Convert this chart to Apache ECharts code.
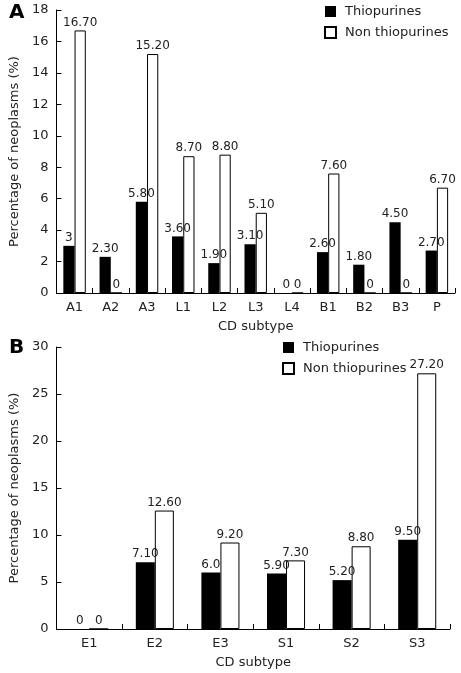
<!DOCTYPE html>
<html>
<head>
<meta charset="utf-8">
<script src="https://cdn.jsdelivr.net/npm/echarts@6/dist/echarts.min.js"></script>
<style>html,body{margin:0;padding:0;background:#fff;}#c{width:461px;height:673px;}</style>
</head>
<body>
<div id="c"></div>
<script>
// Panel A data
var catsA = ['A1','A2','A3','L1','L2','L3','L4','B1','B2','B3','P'];
var thioA = [3, 2.3, 5.8, 3.6, 1.9, 3.1, 0, 2.6, 1.8, 4.5, 2.7];
var nonA  = [16.7, 0, 15.2, 8.7, 8.8, 5.1, 0, 7.6, 0, 0, 6.7];
var thioALabels = ['3','2.30','5.80','3.60','1.90','3.10','0','2.60','1.80','4.50','2.70'];
var nonALabels  = ['16.70','0','15.20','8.70','8.80','5.10','0','7.60','0','0','6.70'];
// Panel B data
var catsB = ['E1','E2','E3','S1','S2','S3'];
var thioB = [0, 7.1, 6.0, 5.9, 5.2, 9.5];
var nonB  = [0, 12.6, 9.2, 7.3, 8.8, 27.2];
var thioBLabels = ['0','7.10','6.0','5.90','5.20','9.50'];
var nonBLabels  = ['0','12.60','9.20','7.30','8.80','27.20'];
var seriesNames = ['Thiopurines','Non thiopurines'];
var xName = 'CD subtype';
var yName = 'Percentage of neoplasms (%)';

var FONT = 'DejaVu Sans';
var TXT = '#222';
function xAxis(cats, gi){
  return {
    type:'category', gridIndex:gi, data:cats,
    name:xName, nameLocation:'middle', nameGap:27,
    nameTextStyle:{fontFamily:FONT,fontSize:13,color:TXT},
    axisLine:{show:true,lineStyle:{color:'#000',width:1}},
    axisTick:{show:true,alignWithLabel:false,interval:0,inside:true,length:5,lineStyle:{color:'#000',width:1}},
    axisLabel:{fontFamily:FONT,fontSize:13,color:TXT,margin:8,interval:0}
  };
}
function yAxis(max, interval, gi){
  return {
    type:'value', gridIndex:gi, min:0, max:max, interval:interval,
    name:yName, nameLocation:'middle', nameGap:31,
    nameTextStyle:{fontFamily:FONT,fontSize:13,color:TXT},
    axisLine:{show:true,lineStyle:{color:'#000',width:1}},
    axisTick:{show:true,inside:true,length:5,lineStyle:{color:'#000',width:1}},
    axisLabel:{fontFamily:FONT,fontSize:13,color:TXT,margin:8},
    splitLine:{show:false}
  };
}
function labelFor(arr){
  return {show:true,position:'top',distance:2,fontFamily:FONT,fontSize:12,color:TXT,
    formatter:function(p){return arr[p.dataIndex];}};
}
function bars(name, data, labels, gi, black, gap){
  return {
    type:'bar', name:name, xAxisIndex:gi, yAxisIndex:gi, data:data,
    barGap:'0%', barCategoryGap:gap, z:1,
    itemStyle: black ? {color:'#000'} : {color:'#fff',borderColor:'#000',borderWidth:1},
    label:labelFor(labels)
  };
}
function legend(left, top){
  return {
    orient:'vertical', left:left, top:top, itemWidth:11, itemHeight:11, itemGap:8,
    icon:'rect', data:seriesNames,
    textStyle:{fontFamily:FONT,fontSize:13,color:TXT,padding:[0,0,0,4]}
  };
}
var chart = echarts.init(document.getElementById('c'), null, {renderer:'canvas'});
chart.setOption({
  animation:false,
  backgroundColor:'#fff',
  title:[
    {text:'A',left:4,top:-2,textStyle:{fontFamily:FONT,fontSize:20,fontWeight:'bold',color:'#000'}},
    {text:'B',left:4,top:333,textStyle:{fontFamily:FONT,fontSize:20,fontWeight:'bold',color:'#000'}}
  ],
  legend:[legend(319,0), legend(277,336)],
  grid:[
    {left:46, top:10, right:6, height:283},
    {left:47, top:347, right:11, height:282}
  ],
  xAxis:[xAxis(catsA,0), xAxis(catsB,1)],
  yAxis:[yAxis(18,2,0), yAxis(30,5,1)],
  series:[
    bars(seriesNames[0], thioA, thioALabels, 0, true, '38%'),
    bars(seriesNames[1], nonA, nonALabels, 0, false, '38%'),
    bars(seriesNames[0], thioB, thioBLabels, 1, true, '42%'),
    bars(seriesNames[1], nonB, nonBLabels, 1, false, '42%')
  ]
});
</script>
</body>
</html>
